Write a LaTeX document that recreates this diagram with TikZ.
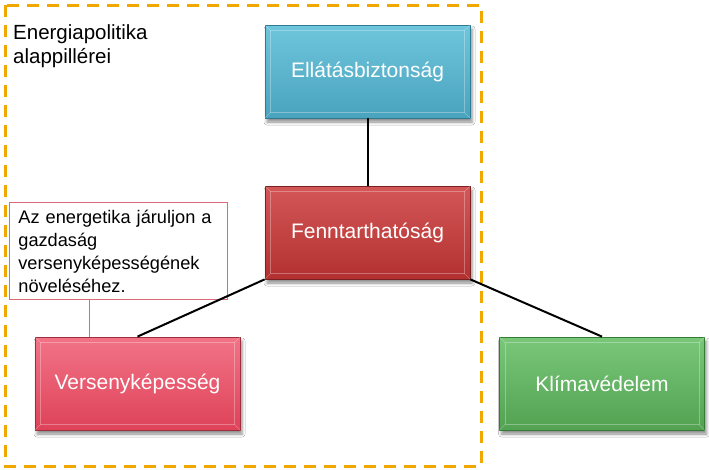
\documentclass[tikz,border=0pt]{standalone}
\usepackage{fontspec}
\setmainfont{Liberation Sans}
\usetikzlibrary{shadows.blur}
\definecolor{tealT}{HTML}{6EC6DD}\definecolor{tealB}{HTML}{4AA3BD}\definecolor{tealD}{HTML}{2F7C92}
\definecolor{redT}{HTML}{D45757}\definecolor{redB}{HTML}{B33030}\definecolor{redD}{HTML}{7A2222}
\definecolor{pinkT}{HTML}{F27487}\definecolor{pinkB}{HTML}{DE4259}\definecolor{pinkD}{HTML}{9C2E3E}
\definecolor{greenT}{HTML}{7AC77A}\definecolor{greenB}{HTML}{52A252}\definecolor{greenD}{HTML}{357A35}
\definecolor{calloutC}{HTML}{D86A7A}
\definecolor{orangeC}{HTML}{F0A800}
\tikzset{
  pillar/.style={minimum width=205pt, minimum height=93pt, inner sep=0pt,
    text=white, font=\fontsize{21}{25}\selectfont, line width=0.8pt,
    blur shadow={shadow xshift=2pt, shadow yshift=-4pt, shadow blur radius=3pt, shadow opacity=45}},
  conn/.style={line width=2pt, black},
  bevel/.style={line width=0.6pt, white, opacity=0.3}
}
\begin{document}
\begin{tikzpicture}[x=1pt,y=1pt]
\useasboundingbox (0,0) rectangle (709,-469);
\fill[white] (0,0) rectangle (709,-469);
% dashed frame
\draw[orangeC, line width=3pt, dash pattern=on 12pt off 8pt] (5,-5) rectangle (481,-466);
\node[anchor=north west, align=left, font=\fontsize{20.5}{24}\selectfont, inner sep=0pt] (title) at (13,-24) {Energiapolitika\\alappillérei};
% callout
\node[draw=calloutC, line width=0.8pt, fill=white, anchor=north west, minimum width=218pt, minimum height=97pt,
  text width=200pt, align=left, inner xsep=9pt, inner ysep=5pt, font=\fontsize{18.2}{23}\selectfont] (callout) at (9,-202)
  {Az energetika járuljon a\\gazdaság\\versenyképességének\\növeléséhez.};
% pillars
\node[pillar, draw=tealD, top color=tealT, bottom color=tealB] (ella) at (367.5,-71.5) {Ellátásbiztonság};
\node[pillar, draw=redD, top color=redT, bottom color=redB] (fenn) at (367.5,-232.5) {Fenntarthatóság};
\node[pillar, draw=pinkD, top color=pinkT, bottom color=pinkB] (vers) at (137.5,-383.5) {Versenyképesség};
\node[pillar, draw=greenD, top color=greenT, bottom color=greenB] (klima) at (602,-383.5) {Klímavédelem};
% bevels
\foreach \n in {ella,fenn,vers,klima}{
  \draw[bevel] ([shift={(6pt,-6pt)}]\n.north west) rectangle ([shift={(-6pt,6pt)}]\n.south east);
  \draw[bevel] (\n.north west) -- ([shift={(6pt,-6pt)}]\n.north west);
  \draw[bevel] (\n.north east) -- ([shift={(-6pt,-6pt)}]\n.north east);
  \draw[bevel] (\n.south west) -- ([shift={(6pt,6pt)}]\n.south west);
  \draw[bevel] (\n.south east) -- ([shift={(-6pt,6pt)}]\n.south east);
}
% connectors
\draw[conn] (ella.south) -- (fenn.north);
\draw[conn] (fenn.south west) -- (vers.north);
\draw[conn] (fenn.south east) -- (klima.north);
\coordinate (cl) at ([xshift=80pt]callout.south west);
\draw[calloutC, line width=0.8pt] (cl) -- (cl |- vers.north);
\end{tikzpicture}
\end{document}
